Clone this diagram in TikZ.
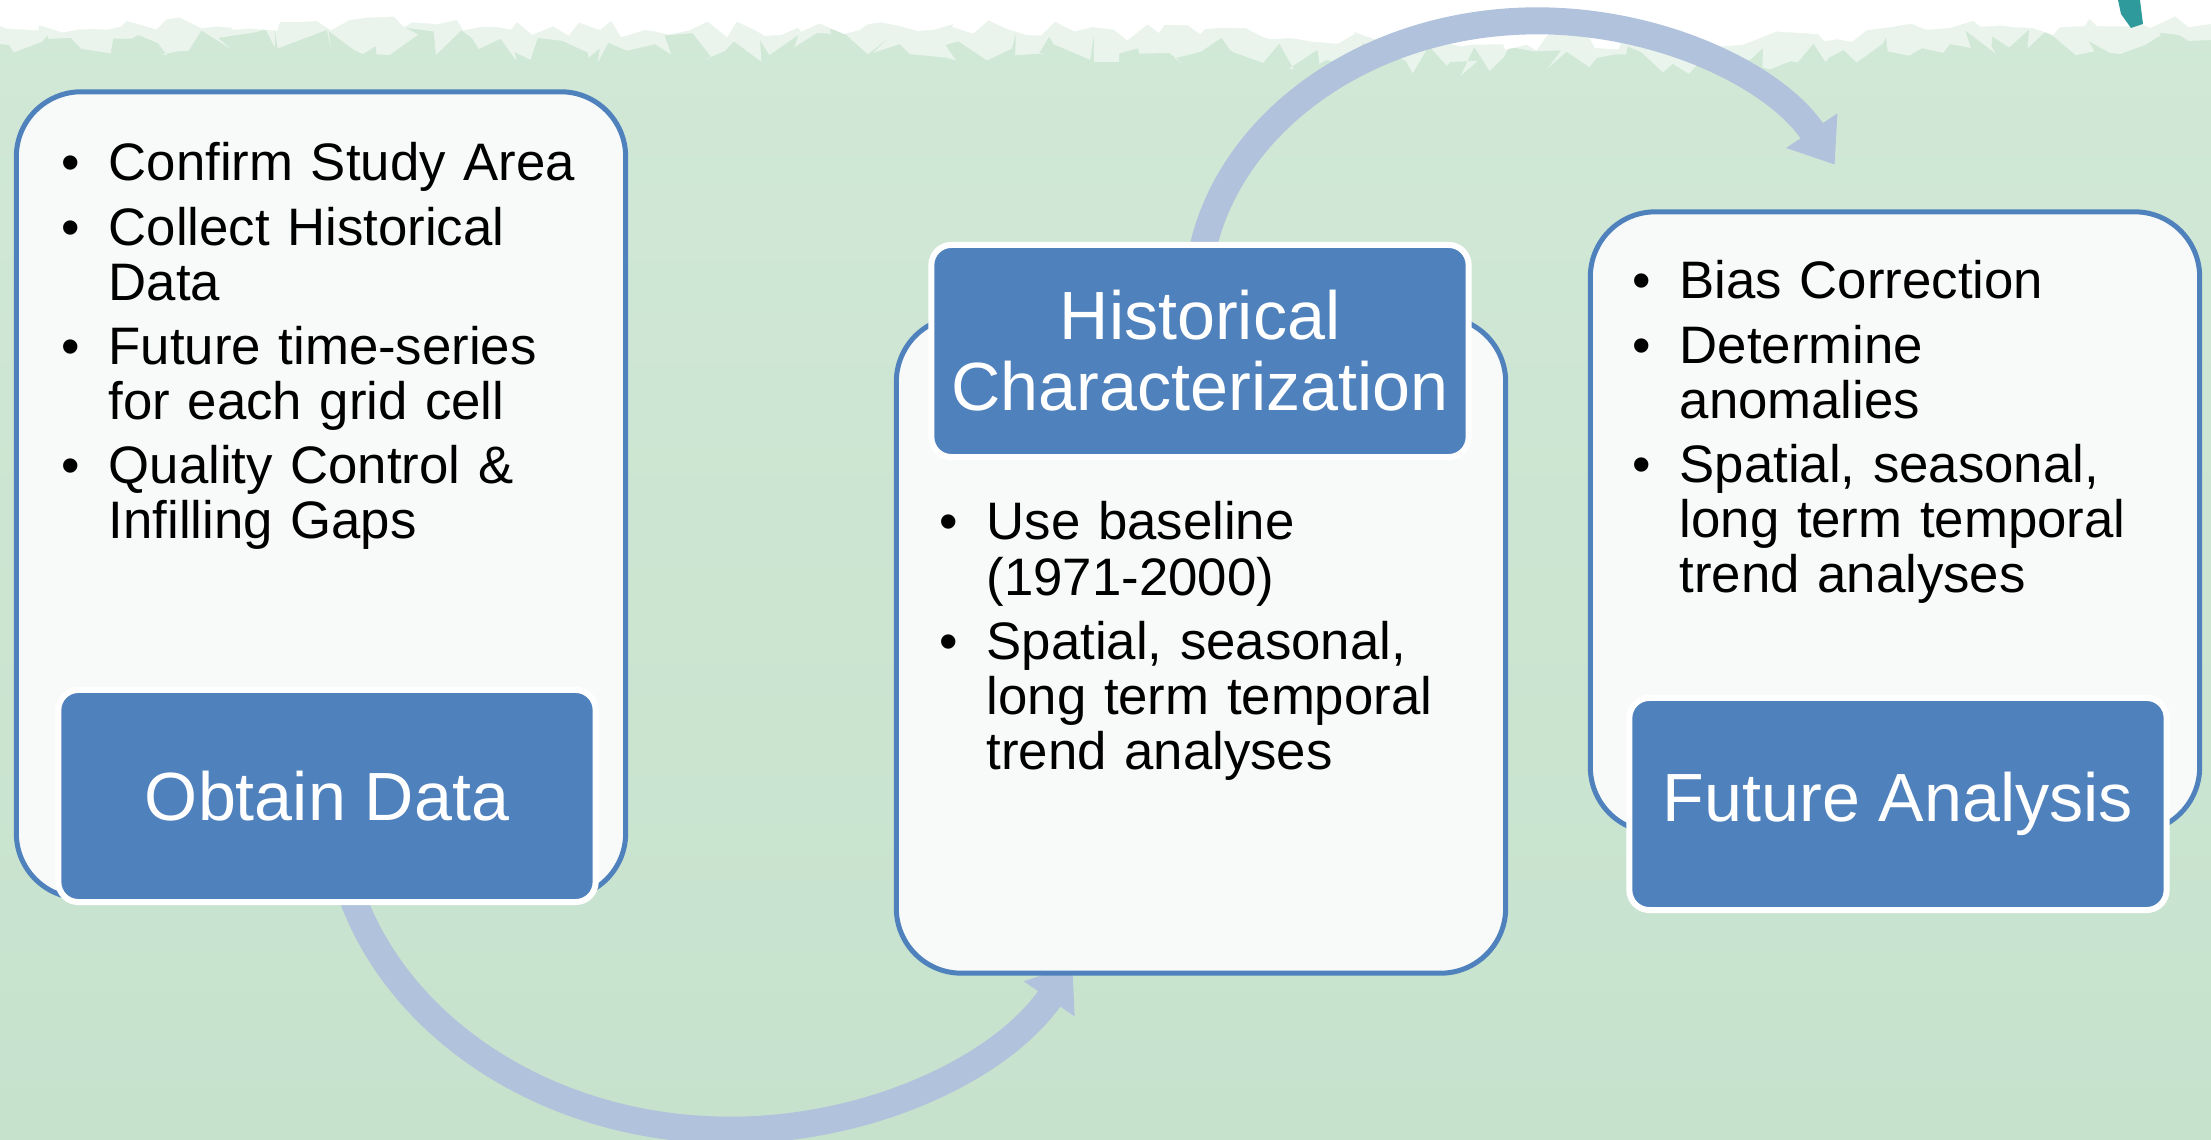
\documentclass[tikz,border=0pt]{standalone}
\usepackage{fontspec}
\setmainfont{Liberation Sans}
\usepackage{xcolor}
\definecolor{bggreen}{HTML}{D1E8D6}
\definecolor{bggreendk}{HTML}{C6E2CD}
\definecolor{arcblue}{HTML}{B0C2DC}
\definecolor{boxblue}{HTML}{4F81BD}
\definecolor{cardfill}{HTML}{F8FAF9}
\definecolor{smudge}{HTML}{2E9A9C}
\usepackage{tikz}
\usetikzlibrary{arrows.meta,positioning,decorations.pathmorphing}

\newcommand{\bitem}[1]{\noindent\hangindent=4.7mm\hangafter=1\makebox[4.7mm][l]{\textbullet}#1\par}

\begin{document}
\begin{tikzpicture}[x=0.01cm, y=-0.01cm,
    card/.style={rectangle, draw=boxblue, fill=cardfill, line width=0.5mm, rounded corners=6.5mm, minimum width=6.09cm, inner sep=0pt},
    tag/.style={rectangle, draw=white, fill=boxblue, line width=0.6mm, rounded corners=2mm, minimum width=5.37cm, minimum height=2.12cm, text=white, align=center, font=\fontsize{19.4}{20}\selectfont},
    bul/.style={text width=5.4cm, align=left, inner sep=0pt, anchor=base west, font=\fontsize{15}{15.65}\selectfont, execute at begin node={\setlength{\parskip}{0.9mm}}},
    flow/.style={draw=arcblue, line width=2.7mm, -{Triangle[width=5.9mm,length=4.1mm]}},
  ]
    \useasboundingbox (0,0) rectangle (2211,1140);
    % background and torn paper strip
    \shade[top color=bggreen, bottom color=bggreendk] (0,0) rectangle (2211,1140);
    \pgfmathsetseed{11}
    \fill[white, opacity=0.55] (0,0) -- (2211,0) -- (2211,40)
      decorate[decoration={random steps, segment length=1.2mm, amplitude=1.6mm}]
      {-- (1950,44) -- (1750,60) -- (1450,62) -- (1200,52) -- (900,44) -- (600,48) -- (300,40) -- (0,44)} -- cycle;
    \fill[white] (0,0) -- (2211,0) -- (2211,24)
      decorate[decoration={random steps, segment length=1.5mm, amplitude=0.9mm}]
      {-- (1950,28) -- (1750,42) -- (1450,44) -- (1200,34) -- (900,26) -- (600,30) -- (300,22) -- (0,26)} -- cycle;
    \fill[smudge] (2118,0) -- (2140,0) -- (2143,24) -- (2131,28) -- (2121,14) -- cycle;
    % arrows
    \coordinate (t0) at (1197,300);
    \coordinate (b0) at (335,800);
    \draw[flow] (t0) arc[start angle=180, end angle=29, x radius=3.4cm, y radius=2.79cm];
    \draw[flow] (b0) arc[start angle=180, end angle=330, x radius=3.95cm, y radius=3.3cm];
    % cards
    \node[card, minimum height=8.06cm] (obcard) at (321,495) {};
    \node[card, minimum height=6.56cm] (hccard) at (1201,645) {};
    \node[card, minimum height=6.20cm] (facard) at (1895,522) {};
    % tags
    \node[tag] (obtag) at (327,796) {Obtain Data};
    \node[tag, font=\fontsize{19.4}{20.2}\selectfont] (hctag) at (1200,351) {Historical\\Characterization};
    \node[tag] (fatag) at (1898,804) {Future Analysis};
    % bullet texts
    \node[bul] (obtxt) at (61,181) {%
      \bitem{Confirm Study Area}
      \bitem{Collect Historical\newline Data}
      \bitem{Future time-series\newline for each grid cell}
      \bitem{Quality Control \&\newline Infilling Gaps}};
    \node[bul] (hctxt) at (939,540) {%
      \bitem{Use baseline\newline (1971-2000)}
      \bitem{Spatial, seasonal,\newline long term temporal\newline trend analyses}};
    \node[bul] (fatxt) at (1632,299) {%
      \bitem{Bias Correction}
      \bitem{Determine\newline anomalies}
      \bitem{Spatial, seasonal,\newline long term temporal\newline trend analyses}};
  \end{tikzpicture}
\end{document}
